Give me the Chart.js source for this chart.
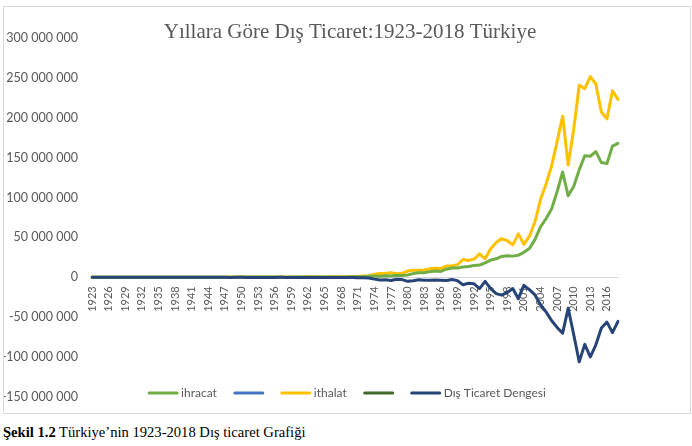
<!DOCTYPE html>
<html>
<head>
<meta charset="utf-8">
<script src="https://cdn.jsdelivr.net/npm/chart.js@4.4.0/dist/chart.umd.min.js"></script>
<style>
    body { margin: 0; background: #fff; width: 692px; height: 446px; overflow: hidden; }
    #box { position: absolute; left: 3px; top: 6px; width: 686px; height: 406px; border: 1px solid #d9d9d9; }
    #caption { position: absolute; left: 3px; top: 424px; font-family: "Liberation Serif", serif; font-size: 14.6px; color: #000; white-space: nowrap; }
</style>
</head>
<body>
<div id="box"><canvas id="chartTrade" width="686" height="406"></canvas></div>
<div id="caption"><b>Şekil 1.2</b> Türkiye’nin 1923-2018 Dış ticaret Grafiği</div>
<script>
    // yillar
    var years = [1923, 1924, 1925, 1926, 1927, 1928, 1929, 1930, 1931, 1932, 1933, 1934, 1935, 1936, 1937, 1938,
        1939, 1940, 1941, 1942, 1943, 1944, 1945, 1946, 1947, 1948, 1949, 1950, 1951, 1952, 1953, 1954, 1955, 1956,
        1957, 1958, 1959, 1960, 1961, 1962, 1963, 1964, 1965, 1966, 1967, 1968, 1969, 1970, 1971, 1972, 1973, 1974,
        1975, 1976, 1977, 1978, 1979, 1980, 1981, 1982, 1983, 1984, 1985, 1986, 1987, 1988, 1989, 1990, 1991, 1992,
        1993, 1994, 1995, 1996, 1997, 1998, 1999, 2000, 2001, 2002, 2003, 2004, 2005, 2006, 2007, 2008, 2009, 2010,
        2011, 2012, 2013, 2014, 2015, 2016, 2017, 2018];

    // bin $
    var ihracat = [51000, 82000, 102000, 96000, 80000, 88000, 75000, 71000, 60000, 48000, 46000, 44000, 46000, 56000,
        73000, 85000, 100000, 81000, 92000, 127000, 197000, 178000, 168000, 215000, 223000, 197000, 248000, 263000,
        314000, 363000, 396000, 335000, 313000, 305000, 345000, 247000, 354000, 321000, 347000, 381000, 368000,
        411000, 464000, 490000, 523000, 496000, 537000, 588000, 677000, 885000, 1317000, 1532000, 1401000, 1960000,
        1753000, 2288000, 2261000, 2910000, 4703000, 5746000, 5728000, 7134000, 7958000, 7457000, 10190000,
        11662000, 11625000, 12959000, 13593000, 14715000, 15345000, 18106000, 21637000, 23224000, 26261000,
        26974000, 26587000, 27775000, 31334000, 36059000, 47253000, 63167000, 73476000, 85535000, 107272000,
        132027000, 102143000, 113883000, 134907000, 152462000, 151803000, 157610000, 143839000, 142530000,
        164495000, 167921000];

    var ithalat = [87000, 101000, 129000, 121000, 108000, 114000, 124000, 70000, 65000, 41000, 37000, 45000, 48000,
        50000, 91000, 119000, 93000, 50000, 55000, 147000, 155000, 126000, 97000, 119000, 244000, 275000, 290000,
        286000, 402000, 556000, 533000, 478000, 498000, 407000, 397000, 315000, 470000, 468000, 507000, 619000,
        688000, 537000, 572000, 718000, 685000, 764000, 801000, 948000, 1171000, 1563000, 2086000, 3778000,
        4739000, 5129000, 5796000, 4599000, 5069000, 7909000, 8933000, 8843000, 9235000, 10757000, 11343000,
        11105000, 14158000, 14335000, 15792000, 22302000, 21047000, 22871000, 29428000, 23270000, 35709000,
        43627000, 48559000, 45921000, 40671000, 54503000, 41399000, 51554000, 69340000, 97540000, 116774000,
        139576000, 170063000, 201964000, 140928000, 185544000, 240842000, 236545000, 251661000, 242177000,
        207234000, 198618000, 233800000, 223047000];

    var denge = [-36000, -19000, -27000, -25000, -28000, -26000, -49000, 1000, -5000, 7000, 9000, -1000, -2000, 6000,
        -18000, -34000, 7000, 31000, 37000, -20000, 42000, 52000, 71000, 96000, -21000, -78000, -42000, -23000,
        -88000, -193000, -137000, -143000, -185000, -102000, -52000, -68000, -116000, -147000, -160000, -238000,
        -320000, -126000, -108000, -228000, -162000, -268000, -264000, -360000, -494000, -678000, -769000,
        -2246000, -3338000, -3169000, -4043000, -2311000, -2808000, -4999000, -4230000, -3097000, -3507000,
        -3623000, -3385000, -3648000, -3968000, -2673000, -4167000, -9343000, -7454000, -8156000, -14083000,
        -5164000, -14072000, -20403000, -22298000, -18947000, -14084000, -26728000, -10065000, -15495000,
        -22087000, -34373000, -43298000, -54041000, -62791000, -69937000, -38785000, -71661000, -105935000,
        -84083000, -99858000, -84567000, -63395000, -56088000, -69305000, -55126000];

    var chartTitle = 'Yıllara Göre Dış Ticaret:1923-2018 Türkiye';
    var gray = '#595959';
    var sansFont = 'Lato, "Open Sans", sans-serif';

    function formatNumber(v) {
        var s = String(Math.abs(v)).replace(/\B(?=(\d{3})+(?!\d))/g, ' ');
        return (v < 0 ? '-' : '') + s;
    }

    // baslik ve lejant elle ciziliyor (grafik alanina tasiyor)
    var overlayPlugin = {
        id: 'overlay',
        afterDraw: function (chart) {
            var ctx = chart.ctx;
            ctx.save();
            ctx.fillStyle = gray;
            ctx.font = '21px "Liberation Serif", serif';
            ctx.textAlign = 'center';
            ctx.textBaseline = 'middle';
            ctx.fillText(chartTitle, 346, 25);

            ctx.font = '12px ' + sansFont;
            var lineLen = 30, textGap = 3, itemGap = 17;
            var items = chart.data.datasets;
            var total = 0;
            items.forEach(function (ds, i) {
                total += lineLen;
                if (ds.label) total += textGap + ctx.measureText(ds.label).width;
                if (i < items.length - 1) total += itemGap;
            });
            var x = chart.width / 2 - total / 2;
            var y = 386;
            ctx.textAlign = 'left';
            ctx.lineCap = 'round';
            items.forEach(function (ds) {
                ctx.strokeStyle = ds.borderColor;
                ctx.lineWidth = 3;
                ctx.beginPath();
                ctx.moveTo(x + 1, y);
                ctx.lineTo(x + lineLen - 1, y);
                ctx.stroke();
                x += lineLen;
                if (ds.label) {
                    ctx.fillText(ds.label, x + textGap, y);
                    x += textGap + ctx.measureText(ds.label).width;
                }
                x += itemGap;
            });
            ctx.restore();
        }
    };

    var chartTrade = new Chart(document.getElementById('chartTrade'), {
        type: 'line',
        data: {
            labels: years,
            datasets: [{
                label: 'ihracat',
                data: ihracat,
                borderColor: '#70AD47',
                order: 1
            }, {
                label: '',
                data: [],
                borderColor: '#4472C4',
                order: 3
            }, {
                label: 'ithalat',
                data: ithalat,
                borderColor: '#FFC000',
                order: 2
            }, {
                label: '',
                data: [],
                borderColor: '#43682B',
                order: 4
            }, {
                label: 'Dış Ticaret Dengesi',
                data: denge,
                borderColor: '#264478',
                order: 0
            }]
        },
        options: {
            responsive: false,
            animation: false,
            elements: {
                line: { borderWidth: 3, tension: 0, borderJoinStyle: 'round', borderCapStyle: 'round' },
                point: { radius: 0 }
            },
            layout: {
                padding: { top: 31, bottom: 16, left: 0, right: 72 }
            },
            plugins: {
                legend: { display: false },
                title: { display: false },
                tooltip: { enabled: false }
            },
            scales: {
                x: {
                    position: { y: 0 },
                    grid: { display: false, drawTicks: false },
                    border: { display: true, color: '#d9d9d9', width: 1 },
                    ticks: {
                        autoSkip: false,
                        minRotation: 90,
                        maxRotation: 90,
                        padding: 9,
                        color: gray,
                        font: { family: sansFont, size: 11 },
                        callback: function (value, index) {
                            return index % 3 === 0 ? this.getLabelForValue(value) : '';
                        }
                    }
                },
                y: {
                    min: -150000000,
                    max: 300000000,
                    grid: { display: false, drawTicks: false },
                    border: { display: false },
                    afterFit: function (scale) {
                        scale.width = 88;
                        scale.paddingTop = 8;
                        scale.paddingBottom = 8;
                    },
                    ticks: {
                        stepSize: 50000000,
                        padding: 14,
                        color: gray,
                        font: { family: sansFont, size: 12.5 },
                        callback: function (value) {
                            return formatNumber(value);
                        }
                    }
                }
            }
        },
        plugins: [overlayPlugin]
    });
</script>
</body>
</html>
